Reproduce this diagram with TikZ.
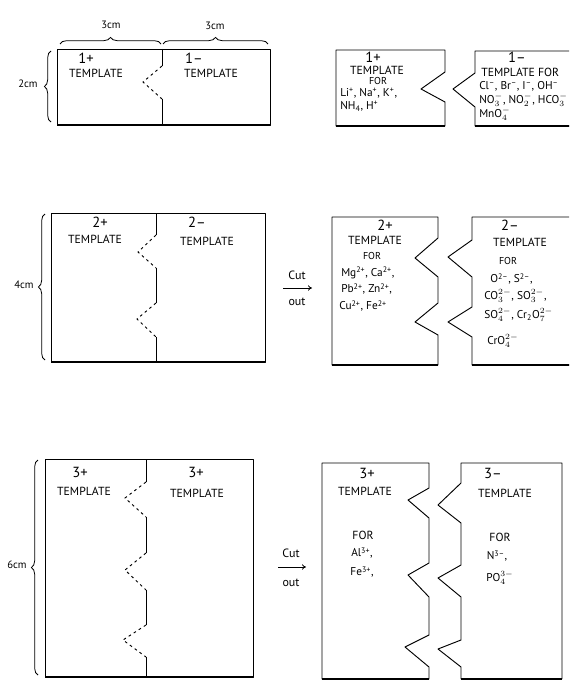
\documentclass[tikz,border=0pt]{standalone}
\usepackage{fontspec}
\setmainfont{PT Sans}
\usetikzlibrary{decorations.pathreplacing,arrows.meta}
\newcommand{\ionsb}[3]{#1$_{#2}^{#3}$}
\tikzset{
  edge/.style={line width=0.7pt, line join=round},
  basel/.style={line width=2pt},
  cutline/.style={line width=0.7pt, dash pattern=on 2pt off 2.5pt},
  brc/.style={decorate, decoration={brace, amplitude=5pt}, line width=0.6pt},
  big/.style={font=\fontsize{11}{12}\selectfont, inner sep=0pt},
  tmpl/.style={font=\fontsize{8.8}{9}\selectfont, inner sep=0pt},
  ions/.style={font=\fontsize{8.5}{10}\selectfont, inner sep=0pt, anchor=west},
  dim/.style={font=\fontsize{8}{9}\selectfont, inner sep=0pt},
  cutarrow/.style={-{To[length=3pt,width=4pt]}, line width=0.6pt},
}
\begin{document}
\begin{tikzpicture}[x=0.75pt,y=-0.75pt]
\useasboundingbox (0,0) rectangle (569,681);
\clip (0,0) rectangle (569,681);

% ===== Row 1: uncut sheet =====
\draw[edge] (57,49) rectangle (270,125);
\draw[basel] (57,125) -- (270,125);
\draw[edge] (162,49) -- (162,66);
\draw[cutline] (162,66) -- (143,82) -- (162,99);
\draw[edge] (162,99) -- (162,125);
\draw[brc] (60,44) -- (161,44);
\draw[brc] (163,44) -- (268,44);
\draw[brc] (51,122) -- (51,51);
\node[dim] (d1a) at (111,25) {3cm};
\node[dim] (d1b) at (215,26) {3cm};
\node[dim] (d1c) at (28,84) {2cm};
\node[big] (r1p) at (86,58) {1+};
\node[tmpl] (r1pt) at (96,73) {TEMPLATE};
\node[big] (r1m) at (194,58) {1–};
\node[tmpl] (r1mt) at (211,73) {TEMPLATE};

% ===== Row 1: cut pieces =====
\draw[edge] (336,50) -- (445,50) -- (445,72) -- (421,89) -- (445,102) -- (445,126) -- (336,126) -- cycle;
\draw[basel] (336,126) -- (445,126);
\draw[edge] (580,51) -- (475,51) -- (475,73) -- (453,89) -- (475,107) -- (475,126) -- (580,126);
\draw[basel] (475,126) -- (580,126);
\node[big] (c1p) at (373,57) {1+};
\node[tmpl] (c1pt) at (377,70) {TEMPLATE};
\node[tmpl, font=\fontsize{7.5}{8}\selectfont] (c1pf) at (378,81) {FOR};
\node[ions] (c1p1) at (340,93) {Li\textsuperscript{+}, Na\textsuperscript{+}, K\textsuperscript{+},};
\node[ions] (c1p2) at (340,106) {NH\textsubscript{4}, H\textsuperscript{+}};
\node[big] (c1m) at (517,57) {1–};
\node[tmpl] (c1mt) at (481,72) [anchor=west] {TEMPLATE FOR};
\node[ions] (c1m1) at (479,86) {Cl\textsuperscript{–}, Br\textsuperscript{–}, I\textsuperscript{–}, OH\textsuperscript{–}};
\node[ions] (c1m2) at (479,100) {\ionsb{NO}{3}{-}, \ionsb{NO}{2}{-}, \ionsb{HCO}{3}{-}};
\node[ions] (c1m3) at (479,114) {\ionsb{MnO}{4}{-}};

% ===== Row 2: uncut sheet =====
\draw[edge] (51,213) rectangle (265,362);
\draw[basel] (51,362) -- (265,362);
\draw[edge] (156,213) -- (156,235);
\draw[cutline] (156,235) -- (138,252) -- (156,268);
\draw[edge] (156,268) -- (156,303);
\draw[cutline] (156,303) -- (137,319) -- (156,337);
\draw[edge] (156,337) -- (156,362);
\draw[brc] (45,360) -- (45,214);
\node[dim] (d2) at (24,285) {4cm};
\node[big] (r2p) at (100,222) {2+};
\node[tmpl] (r2pt) at (95,239) {TEMPLATE};
\node[big] (r2m) at (197,222) {2–};
\node[tmpl] (r2mt) at (207,241) {TEMPLATE};

% cut out arrow 2
\node[dim, font=\fontsize{9}{10}\selectfont] (cut2) at (297,275) {Cut};
\node[dim, font=\fontsize{9}{10}\selectfont] (out2) at (297,302) {out};
\coordinate (a2s) at (283,288);
\coordinate (a2e) at (312,288);
\draw[cutarrow] (a2s) -- (a2e);

% ===== Row 2: cut pieces =====
\draw[edge] (332,217) -- (438,217) -- (438,238) -- (415,258) -- (438,277) -- (438,303) -- (415,322) -- (438,335) -- (438,365) -- (332,365) -- cycle;
\draw[basel] (332,365) -- (438,365);
\draw[edge] (580,217) -- (472,217) -- (472,240) -- (448,257) -- (472,277) -- (472,307) -- (448,322) -- (472,337) -- (472,365) -- (580,365);
\draw[basel] (472,365) -- (580,365);
\node[big] (c2p) at (385,225) {2+};
\node[tmpl] (c2pt) at (375,240) {TEMPLATE};
\node[tmpl, font=\fontsize{7.5}{8}\selectfont] (c2pf) at (372,256) {FOR};
\node[ions] (c2p1) at (341,273) {Mg\textsuperscript{2+}, Ca\textsuperscript{2+},};
\node[ions] (c2p2) at (341,289) {Pb\textsuperscript{2+}, Zn\textsuperscript{2+},};
\node[ions] (c2p3) at (339,306) {Cu\textsuperscript{2+}, Fe\textsuperscript{2+}};
\node[big] (c2m) at (510,225) {2–};
\node[tmpl] (c2mt) at (520,242) {TEMPLATE};
\node[tmpl, font=\fontsize{7.5}{8}\selectfont] (c2mf) at (508,261) {FOR};
\node[ions] (c2m1) at (490,279) {O\textsuperscript{2–}, S\textsuperscript{2–},};
\node[ions] (c2m2) at (484,296) {\ionsb{CO}{3}{2-}, \ionsb{SO}{3}{2-},};
\node[ions] (c2m3) at (484,315) {\ionsb{SO}{4}{2-}, Cr\textsubscript{2}\ionsb{O}{7}{2-}};
\node[ions] (c2m4) at (487,341) {\ionsb{CrO}{4}{2-}};

% ===== Row 3: uncut sheet =====
\draw[edge] (45,459) rectangle (253,677);
\draw[basel] (45,677) -- (253,677);
\draw[edge] (146,459) -- (146,482);
\draw[cutline] (146,482) -- (125,498) -- (146,517);
\draw[edge] (146,517) -- (146,553);
\draw[cutline] (146,553) -- (125,570) -- (146,590);
\draw[edge] (146,590) -- (146,625);
\draw[cutline] (146,625) -- (123,640) -- (146,657);
\draw[edge] (146,657) -- (146,677);
\draw[brc] (38,675) -- (38,460);
\node[dim] (d3) at (17,565) {6cm};
\node[big] (r3p) at (80,472) {3+};
\node[tmpl] (r3pt) at (84,491) {TEMPLATE};
\node[big] (r3q) at (196,472) {3+};
\node[tmpl] (r3qt) at (197,493) {TEMPLATE};

% cut out arrow 3
\node[dim, font=\fontsize{9}{10}\selectfont] (cut3) at (291,553) {Cut};
\node[dim, font=\fontsize{9}{10}\selectfont] (out3) at (291,583) {out};
\coordinate (a3s) at (278,567);
\coordinate (a3e) at (306,567);
\draw[cutarrow] (a3s) -- (a3e);

% ===== Row 3: cut pieces =====
\draw[edge] (322,463) -- (429,463) -- (429,488) -- (408,500) -- (429,518) -- (429,563) -- (408,575) -- (429,597) -- (429,635) -- (405,647) -- (429,667) -- (429,679) -- (322,679) -- cycle;
\draw[basel] (322,679) -- (429,679);
\draw[edge] (461,679) -- (461,667) -- (438,649) -- (461,640) -- (461,597) -- (438,578) -- (461,565) -- (461,523) -- (438,505) -- (461,483) -- (461,463) -- (562,463) -- (562,679);
\draw[basel] (461,679) -- (562,679);
\node[big] (c3p) at (367,473) {3+};
\node[tmpl] (c3pt) at (365,491) {TEMPLATE};
\node[tmpl] (c3pf) at (363,535) {FOR};
\node[ions, anchor=center] (c3p1) at (362,553) {Al\textsuperscript{3+},};
\node[ions, anchor=center] (c3p2) at (362,572) {Fe\textsuperscript{3+},};
\node[big] (c3m) at (493,473) {3–};
\node[tmpl] (c3mt) at (505,493) {TEMPLATE};
\node[tmpl] (c3mf) at (500,537) {FOR};
\node[ions, anchor=center] (c3m1) at (497,556) {N\textsuperscript{3–},};
\node[ions, anchor=center] (c3m2) at (500,578) {\ionsb{PO}{4}{3-}};
\end{tikzpicture}
\end{document}
